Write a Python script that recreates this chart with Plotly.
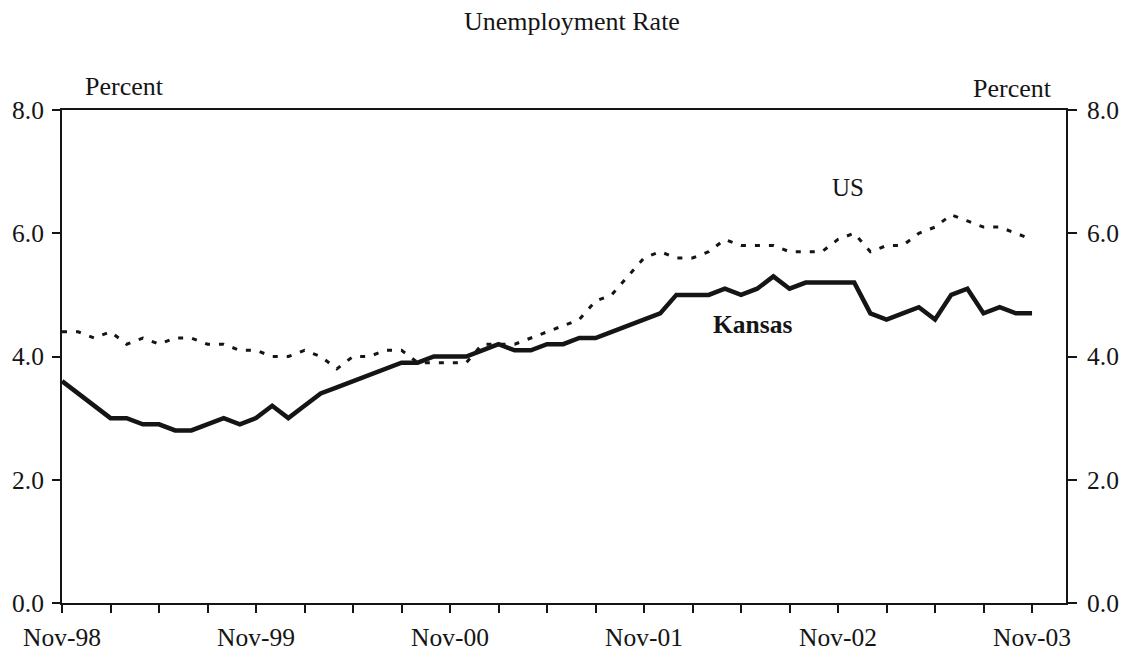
import plotly.graph_objects as go

# Monthly observations, Nov-98 .. Nov-03
years = ["98", "99", "00", "01", "02", "03"]
month_names = ["Jan", "Feb", "Mar", "Apr", "May", "Jun", "Jul", "Aug", "Sep", "Oct", "Nov", "Dec"]
months = []
for i, yy in enumerate(years):
    for j, mn in enumerate(month_names):
        if (i == 0 and j < 10) or (i == len(years) - 1 and j > 10):
            continue
        months.append(f"{mn}-{yy}")

kansas = [3.6, 3.4,
          3.2, 3.0, 3.0, 2.9, 2.9, 2.8, 2.8, 2.9, 3.0, 2.9, 3.0, 3.2,
          3.0, 3.2, 3.4, 3.5, 3.6, 3.7, 3.8, 3.9, 3.9, 4.0, 4.0, 4.0,
          4.1, 4.2, 4.1, 4.1, 4.2, 4.2, 4.3, 4.3, 4.4, 4.5, 4.6, 4.7,
          5.0, 5.0, 5.0, 5.1, 5.0, 5.1, 5.3, 5.1, 5.2, 5.2, 5.2, 5.2,
          4.7, 4.6, 4.7, 4.8, 4.6, 5.0, 5.1, 4.7, 4.8, 4.7, 4.7]

us = [4.4, 4.4,
      4.3, 4.4, 4.2, 4.3, 4.2, 4.3, 4.3, 4.2, 4.2, 4.1, 4.1, 4.0,
      4.0, 4.1, 4.0, 3.8, 4.0, 4.0, 4.1, 4.1, 3.9, 3.9, 3.9, 3.9,
      4.2, 4.2, 4.2, 4.3, 4.4, 4.5, 4.6, 4.9, 5.0, 5.3, 5.6, 5.7,
      5.6, 5.6, 5.7, 5.9, 5.8, 5.8, 5.8, 5.7, 5.7, 5.7, 5.9, 6.0,
      5.7, 5.8, 5.8, 6.0, 6.1, 6.3, 6.2, 6.1, 6.1, 6.0, 5.9]

tick_months = months[::3]
tick_text = [m if m.startswith("Nov") else "" for m in tick_months]
y_ticks = [0, 2, 4, 6, 8]
y_tick_text = [f"{v:.1f}" for v in y_ticks]

FONT = "Liberation Serif"
INK = "#151515"

fig = go.Figure()
fig.add_trace(go.Scatter(x=months, y=us, mode="lines", yaxis="y2",
                         line=dict(color=INK, width=3, dash="5px,9px"),
                         showlegend=False, hoverinfo="skip"))
fig.add_trace(go.Scatter(x=months, y=kansas, mode="lines",
                         line=dict(color=INK, width=4.5),
                         showlegend=False, hoverinfo="skip"))

axis_common = dict(showgrid=False, zeroline=False, showline=True, linecolor=INK,
                   linewidth=2, ticks="outside", tickcolor=INK, tickwidth=2,
                   automargin=False,
                   tickfont=dict(family=FONT, size=25.5, color=INK))

fig.update_layout(
    width=1127, height=658,
    margin=dict(l=62, r=61, t=110, b=55, autoexpand=False),
    paper_bgcolor="white", plot_bgcolor="white",
    xaxis=dict(type="category", categoryorder="array", categoryarray=months,
               range=[0, 62.1], tickvals=tick_months, ticktext=tick_text,
               ticklen=8, ticklabelstandoff=2, mirror=True, **axis_common),
    yaxis=dict(range=[0, 8], tickvals=y_ticks, ticktext=y_tick_text,
               ticklen=8, ticklabelstandoff=3, **axis_common),
    yaxis2=dict(range=[0, 8], tickvals=y_ticks, ticktext=y_tick_text,
                overlaying="y", side="right", ticklen=9, ticklabelstandoff=5,
                **axis_common),
    annotations=[
        dict(text="Unemployment Rate", xref="paper", yref="paper", x=0.508, y=1.1785,
             xanchor="center", yanchor="middle", showarrow=False,
             font=dict(family=FONT, size=26, color=INK)),
        dict(text="Percent", xref="paper", yref="paper", x=0.0627, y=1.0467,
             xanchor="center", yanchor="middle", showarrow=False,
             font=dict(family=FONT, size=26, color=INK)),
        dict(text="Percent", xref="paper", yref="paper", x=0.947, y=1.0446,
             xanchor="center", yanchor="middle", showarrow=False,
             font=dict(family=FONT, size=26, color=INK)),
        dict(text="US", xref="paper", yref="paper", x=0.783, y=0.842,
             xanchor="center", yanchor="middle", showarrow=False,
             font=dict(family=FONT, size=25, color=INK)),
        dict(text="<b>Kansas</b>", xref="paper", yref="paper", x=0.688, y=0.564,
             xanchor="center", yanchor="middle", showarrow=False,
             font=dict(family=FONT, size=25.5, color=INK)),
    ],
)

# remove the default 8px page margin so the figure sits at the window's corner
fig.write_html("out.html",
               config={"displayModeBar": False},
               post_script="document.body.style.margin='0';document.body.style.overflow='hidden';")
